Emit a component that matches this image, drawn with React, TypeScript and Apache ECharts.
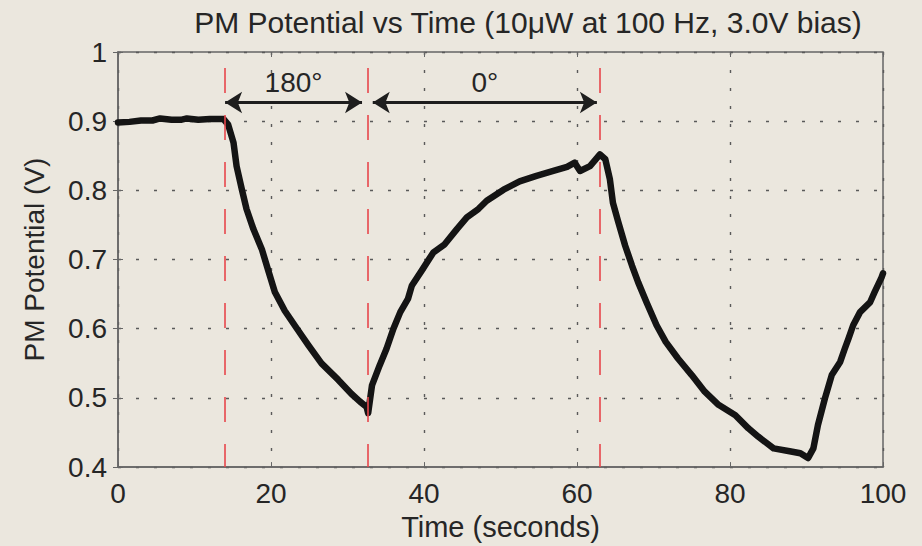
import React, { useEffect, useRef } from "react";
import * as echarts from "echarts";

const titleText = "PM Potential vs Time (10μW at 100 Hz, 3.0V bias)";
const xAxisName = "Time (seconds)";
const yAxisName = "PM Potential (V)";

const times = [
  0, 1.5, 3, 4.5, 5.5, 7, 8.2, 9, 10.5, 12, 13.2, 13.8, 14.4, 15.1, 15.5, 16.2, 16.8, 17.7, 18.8, 19.7,
  20.5, 21.8, 23.4, 24.9, 26.6, 28.8, 30.5, 31.6, 32.5, 32.7, 33.2, 34.2, 35.1, 36.0, 36.9, 37.9,
  38.4, 39.7, 41.2, 42.7, 44.3, 45.6, 47.1, 48.2, 50.4, 52.5, 54.7, 56.9, 58.7, 59.7, 60.4, 61.7,
  63.0, 63.7, 64.3, 64.7, 65.4, 66.3, 67.2, 68.0, 69.1, 70.4, 71.6, 73.2, 75.0, 76.7, 78.5, 80.7,
  82.4, 83.7, 85.7, 87.8, 89.2, 90.2, 90.9, 91.5, 92.4, 93.3, 94.4, 95.0, 95.5, 96.1, 97.0, 98.3,
  98.9, 99.8, 100,
];
const potentials = [
  0.898, 0.899, 0.901, 0.901, 0.904, 0.902, 0.902, 0.904, 0.902, 0.903, 0.903, 0.903, 0.895, 0.869, 0.835, 0.801, 0.773, 0.744, 0.715, 0.682,
  0.653, 0.626, 0.6, 0.576, 0.55, 0.526, 0.506, 0.495, 0.487, 0.478, 0.518, 0.547, 0.571, 0.6, 0.624, 0.643,
  0.662, 0.684, 0.71, 0.722, 0.744, 0.761, 0.773, 0.785, 0.801, 0.813, 0.821, 0.828, 0.834, 0.84, 0.828, 0.835,
  0.852, 0.845, 0.816, 0.782, 0.754, 0.72, 0.691, 0.667, 0.638, 0.605, 0.581, 0.557, 0.533, 0.509, 0.49, 0.475,
  0.456, 0.444, 0.427, 0.423, 0.42, 0.413, 0.427, 0.461, 0.499, 0.533, 0.552, 0.571, 0.586, 0.605, 0.624, 0.638,
  0.653, 0.674, 0.68,
];

const phaseChangeTimes = [13.9, 32.6, 63.0];
const phaseLabels = ["180°", "0°"];
const phaseStarts = [14.0, 33.3];
const phaseEnds = [31.9, 62.6];
const arrowLevel = 0.927;

const xTicks = [0, 20, 40, 60, 80, 100];
const yTicks = [0.4, 0.5, 0.6, 0.7, 0.8, 0.9, 1];

const FONT = "'Liberation Sans', Arial, Helvetica, sans-serif";
const TEXT = "#262626";

export default function App() {
  const ref = useRef<HTMLDivElement>(null);
  useEffect(() => {
    document.body.style.margin = "0";
    if (!ref.current) return;
    const chart = echarts.init(ref.current, undefined, { renderer: "svg" });
    const data = times.map((t, i) => [t, potentials[i]]);
    const gridLine = { show: true, lineStyle: { color: "#5a5a5a", type: [3, 15], width: 1.4 } };
    chart.setOption({
      animation: false,
      backgroundColor: "#EBE7DE",
      textStyle: { fontFamily: FONT },
      graphic: [
        {
          type: "text",
          x: 528,
          y: 22,
          style: {
            text: titleText,
            fontSize: 30,
            fontFamily: FONT,
            fill: TEXT,
            textAlign: "center",
            textVerticalAlign: "middle",
          },
        },
      ],
      grid: {
        left: 118,
        right: 39,
        top: 52,
        bottom: 77,
        show: true,
        borderColor: "#666",
        borderWidth: 1.5,
        backgroundColor: "transparent",
      },
      xAxis: [
        {
          type: "value",
          min: xTicks[0],
          max: xTicks[xTicks.length - 1],
          interval: 20,
          name: xAxisName,
          nameLocation: "middle",
          nameGap: 42,
          nameTextStyle: { fontSize: 29, color: TEXT, fontFamily: FONT },
          axisLine: { show: true, lineStyle: { color: "#666", width: 1.5 } },
          axisTick: { show: true, inside: true, length: 5, lineStyle: { color: "#666" } },
          axisLabel: { fontSize: 28, color: TEXT, margin: 12, fontFamily: FONT },
          splitLine: gridLine,
        },
        {
          type: "value",
          position: "top",
          min: xTicks[0],
          max: xTicks[xTicks.length - 1],
          interval: 20,
          axisLine: { show: false },
          axisTick: { show: true, inside: true, length: 5, lineStyle: { color: "#666" } },
          axisLabel: { show: false },
          splitLine: { show: false },
        },
      ],
      yAxis: [
        {
          type: "value",
          min: yTicks[0],
          max: yTicks[yTicks.length - 1],
          interval: 0.1,
          name: yAxisName,
          nameLocation: "middle",
          nameGap: 70,
          nameTextStyle: { fontSize: 28, color: TEXT, fontFamily: FONT },
          axisLine: { show: true, lineStyle: { color: "#666", width: 1.5 } },
          axisTick: { show: true, inside: true, length: 5, lineStyle: { color: "#666" } },
          axisLabel: {
            fontSize: 28,
            color: TEXT,
            margin: 11,
            fontFamily: FONT,
            formatter: (v: number) => (Math.abs(v - 1) < 1e-9 ? "1" : v.toFixed(1)),
          },
          splitLine: gridLine,
        },
        {
          type: "value",
          position: "right",
          min: yTicks[0],
          max: yTicks[yTicks.length - 1],
          interval: 0.1,
          axisLine: { show: false },
          axisTick: { show: true, inside: true, length: 5, lineStyle: { color: "#666" } },
          axisLabel: { show: false },
          splitLine: { show: false },
        },
      ],
      series: [
        {
          type: "line",
          data,
          showSymbol: false,
          symbol: "none",
          lineStyle: { color: "#141414", width: 6.5, join: "round", cap: "round" },
          markLine: {
            silent: true,
            symbol: ["none", "none"],
            label: { show: false },
            lineStyle: { color: "#E8474C", type: [25, 22], dashOffset: 2, width: 1.6 },
            data: phaseChangeTimes.map((t) => ({ xAxis: t })),
          },
          z: 3,
        },
        {
          type: "line",
          data: [],
          markLine: {
            silent: true,
            symbol: ["arrow", "arrow"],
            symbolSize: [16, 17],
            lineStyle: { color: "#1e1e1e", type: "solid", width: 3.2 },
            label: {
              show: true,
              position: "middle",
              distance: 6,
              fontSize: 28,
              color: TEXT,
              fontFamily: FONT,
            },
            data: phaseLabels.map((name, i) => [
              { coord: [phaseStarts[i], arrowLevel], name },
              { coord: [phaseEnds[i], arrowLevel] },
            ]),
          },
          z: 4,
        },
      ],
    });
    return () => chart.dispose();
  }, []);
  return (
    <div
      ref={ref}
      style={{ position: "fixed", left: 0, top: 0, width: 922, height: 546 }}
    />
  );
}
